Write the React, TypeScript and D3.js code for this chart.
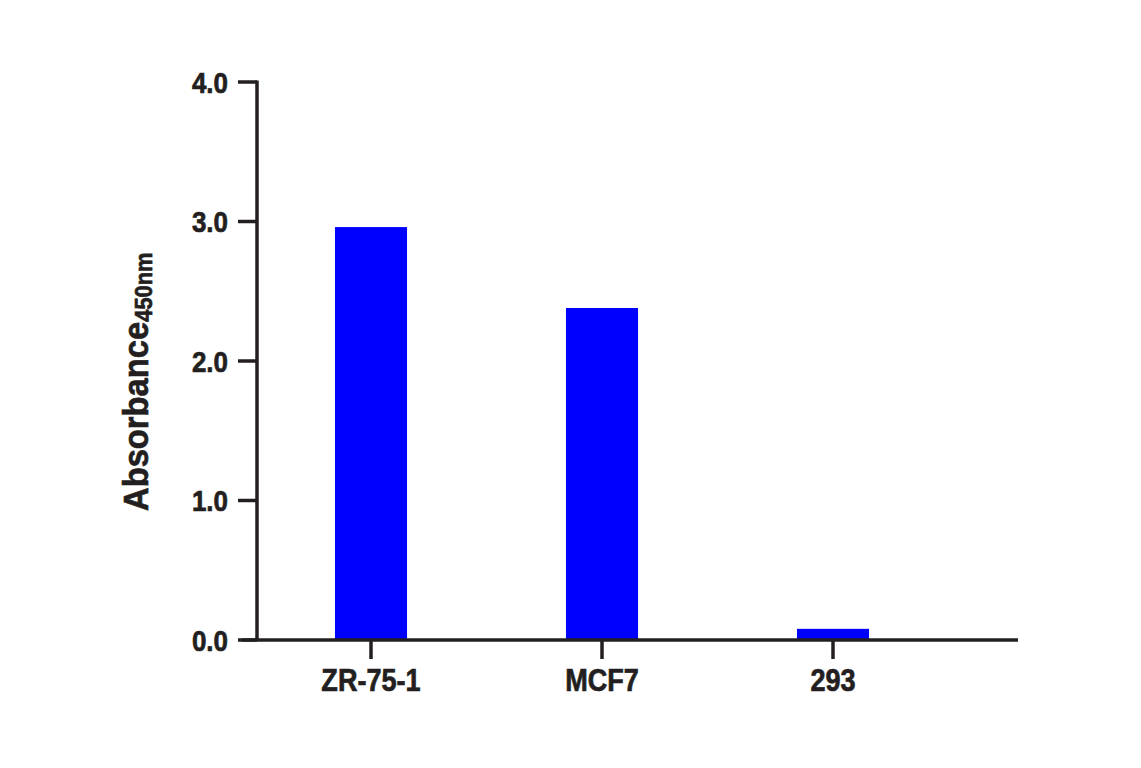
import React from "react";
import * as d3 from "d3";

const categories = ["ZR-75-1", "MCF7", "293"];
const values = [2.96, 2.38, 0.08];
const yTicks = [0, 1, 2, 3, 4];
const yTickLabels = ["0.0", "1.0", "2.0", "3.0", "4.0"];

const W = 1141;
const H = 768;
const FONT = "'Liberation Sans', Arial, Helvetica, sans-serif";

export default function App() {
  const y = d3.scaleLinear().domain([0, 4]).range([640, 82]);
  const x = d3
    .scaleBand<string>()
    .domain(categories)
    .range([255.5, 948.5])
    .paddingInner(0.688)
    .paddingOuter(0.344);
  const axisColor = "#231f20";
  const textStroke = { stroke: axisColor, strokeWidth: 0.7 };
  return (
    <svg
      width={W}
      height={H}
      style={{ position: "absolute", left: 0, top: 0, background: "#fff" }}
      fontFamily={FONT}
    >
      {categories.map((c, i) => (
        <rect
          key={c}
          x={x(c)}
          y={y(values[i])}
          width={x.bandwidth()}
          height={y(0) - y(values[i])}
          fill="#0000ff"
        />
      ))}
      {/* y axis */}
      <line x1={257} x2={257} y1={y(4) - 1.5} y2={y(0)} stroke={axisColor} strokeWidth={3.5} />
      {yTicks.map((t, i) => (
        <g key={t}>
          <line x1={238} x2={257} y1={y(t)} y2={y(t)} stroke={axisColor} strokeWidth={3.5} />
          <text
            transform={`translate(228,${y(t)}) scale(0.88,1)`}
            dy="0.36em"
            textAnchor="end"
            fontSize={29.5}
            fontWeight="bold"
            fill={axisColor}
            {...textStroke}
          >
            {yTickLabels[i]}
          </text>
        </g>
      ))}
      {/* x axis */}
      <line x1={242} x2={1018} y1={y(0)} y2={y(0)} stroke={axisColor} strokeWidth={3.5} />
      {categories.map((c) => {
        const cx = (x(c) ?? 0) + x.bandwidth() / 2;
        return (
          <g key={c}>
            <line x1={cx} x2={cx} y1={y(0)} y2={659} stroke={axisColor} strokeWidth={3.5} />
            <text
              transform={`translate(${cx},691) scale(0.86,1)`}
              textAnchor="middle"
              fontSize={31.5}
              fontWeight="bold"
              fill={axisColor}
              {...textStroke}
            >
              {c}
            </text>
          </g>
        );
      })}
      {/* y title */}
      <text
        transform="translate(148,511) rotate(-90) scale(0.91,1)"
        fontSize={36}
        fontWeight="bold"
        fill={axisColor}
        {...textStroke}
      >
        Absorbance
        <tspan fontSize={24} dy={4}>450nm</tspan>
      </text>
    </svg>
  );
}
